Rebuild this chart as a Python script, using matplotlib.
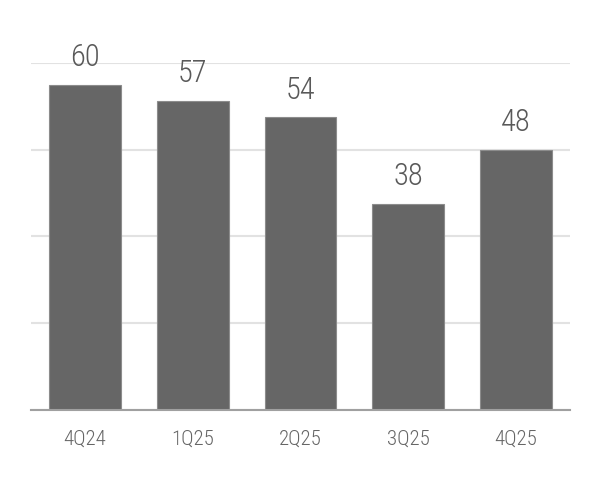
import matplotlib
matplotlib.use("Agg")
import matplotlib.pyplot as plt
from matplotlib import font_manager

categories = ["4Q24", "1Q25", "2Q25", "3Q25", "4Q25"]
values = [60, 57, 54, 38, 48]
grid_ticks = [0, 16, 32, 48, 64]

names = {f.name for f in font_manager.fontManager.ttflist}
fam = "DejaVu Sans"
for cand in ["Roboto Condensed", "Archivo Narrow", "Encode Sans Condensed",
             "Barlow Semi Condensed", "Open Sans Condensed", "Liberation Sans Narrow"]:
    if cand in names:
        fam = cand
        break
plt.rcParams['font.family'] = [fam, 'DejaVu Sans']
plt.rcParams['font.weight'] = 'light'

fig = plt.figure(figsize=(6, 4.8), dpi=100)
ax = fig.add_axes([0.0517, 0.1458, 0.8983, 0.7232])
x = range(len(categories))
ax.bar(x, values, width=0.667, color="#666666", edgecolor="#8c8c8c", linewidth=0.8, zorder=3)
ax.set_xlim(-0.5, len(categories) - 0.5)
ax.set_ylim(0, 64)
ax.set_yticks(grid_ticks)
ax.yaxis.grid(True, color="#e2e2e2", linewidth=1.5, zorder=0)
ax.tick_params(axis='y', left=False, labelleft=False)
ax.tick_params(axis='x', bottom=False, labelsize=15, labelcolor="#666666", pad=11)
ax.set_xticks(list(x))
ax.set_xticklabels(categories)
for s in ["top", "right", "left"]:
    ax.spines[s].set_visible(False)
ax.spines["bottom"].set_color("#a0a0a0")
ax.spines["bottom"].set_linewidth(1.5)
ax.spines["bottom"].set_zorder(4)
for xi, v in zip(x, values):
    ax.annotate(str(v), (xi, v), xytext=(0, 9), textcoords="offset points",
                ha="center", va="bottom", fontsize=22, color="#595959")
fig.savefig("out.png", dpi=100)
